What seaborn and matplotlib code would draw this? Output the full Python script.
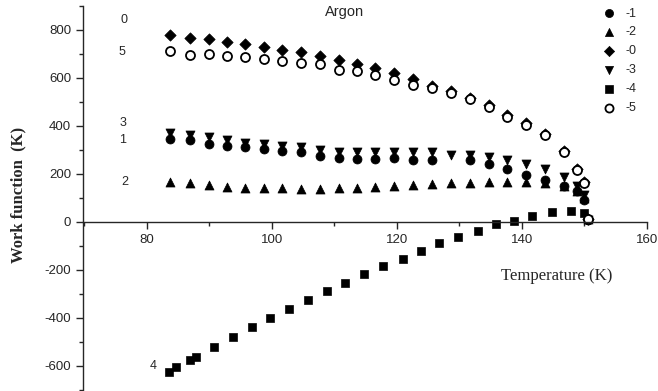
import numpy as np
import pandas as pd
import matplotlib
matplotlib.use('Agg')
import matplotlib.pyplot as plt
import seaborn as sns
from matplotlib.ticker import MultipleLocator

sns.set_style("ticks")
plt.rcParams['font.family'] = ['Liberation Sans Narrow', 'Liberation Sans', 'DejaVu Sans']
plt.rcParams['axes.unicode_minus'] = False

# Data: temperature (K) and work function (K)
t_a = [83.8, 86.9, 89.9, 92.9, 95.8, 98.8, 101.7, 104.7, 107.7, 110.7, 113.6, 116.6,
       119.6, 122.6, 125.6, 128.6, 131.7, 134.8, 137.7, 140.6, 143.7, 146.8, 148.8,
       149.9, 150.6]
wf_0 = [779, 768, 761, 751, 740, 729, 714, 706, 690, 675, 659, 640,
        620, 597, 565, 545, 518, 485, 445, 410, 365, 295, 222, 168, 10]
wf_5 = [712, 695, 698, 689, 686, 678, 670, 662, 658, 633, 627, 612,
        589, 569, 558, 538, 510, 480, 438, 405, 360, 290, 216, 160, 10]
wf_3 = [370, 362, 353, 342, 330, 325, 317, 311, 300, 293, 290, 293,
        289, 289, 289, 280, 279, 270, 256, 242, 220, 188, 150, 112, 8]
wf_1 = [345, 342, 325, 317, 310, 303, 297, 289, 275, 265, 261, 261,
        265, 258, 258, np.nan, 258, 243, 222, 196, 175, 150, 128, 90, 8]
wf_2 = [168, 163, 155, 145, 142, 140, 140, 136, 137, 140, 143, 146,
        150, 153, 156, 160, 163, 166, 167, 166, 162, 148, 130, 100, 10]

t_4 = [83.6, 84.7, 86.9, 87.9, 90.7, 93.8, 96.8, 99.8, 102.8, 105.8, 108.8, 111.8,
       114.8, 117.8, 121.0, 123.8, 126.7, 129.8, 133.0, 135.8, 138.8, 141.7, 144.9,
       147.9, 149.9]
wf_4 = [-626, -607, -576, -562, -521, -480, -437, -400, -362, -326, -287, -254,
        -219, -186, -154, -121, -90, -65, -40, -10, 5, 25, 39, 47, 36]

fig = plt.figure(figsize=(6.58, 3.91), dpi=100)
ax = fig.add_axes([0.126, 0.0, 0.857, 0.985])

ms = 42
sns.scatterplot(x=t_a, y=wf_1, marker='o', s=ms, color='black', edgecolor='black', label='-1', ax=ax)
sns.scatterplot(x=t_a, y=wf_2, marker='^', s=ms, color='black', edgecolor='black', label='-2', ax=ax)
sns.scatterplot(x=t_a, y=wf_0, marker='D', s=ms * 0.8, color='black', edgecolor='black', label='-0', ax=ax)
sns.scatterplot(x=t_a, y=wf_3, marker='v', s=ms, color='black', edgecolor='black', label='-3', ax=ax)
sns.scatterplot(x=t_4, y=wf_4, marker='s', s=ms * 0.85, color='black', edgecolor='black', label='-4', ax=ax)
sns.scatterplot(x=t_a, y=wf_5, marker='o', s=ms, facecolor='white', edgecolor='black',
                linewidth=1.3, label='-5', ax=ax)

ax.set_xlim(69.8, 160)
ax.set_ylim(-705, 900)

ax.spines['top'].set_visible(False)
ax.spines['right'].set_visible(False)
ax.spines['bottom'].set_position(('data', 0))
for sp in ('left', 'bottom'):
    ax.spines[sp].set_linewidth(1.0)

ax.xaxis.set_minor_locator(MultipleLocator(10))
ax.yaxis.set_minor_locator(MultipleLocator(100))
ax.set_xticks([80, 100, 120, 140, 160])
ax.set_yticks([-600, -400, -200, 0, 200, 400, 600, 800])
ax.tick_params(axis='both', which='major', length=5, width=1, labelsize=9.5, direction='out')
ax.tick_params(axis='both', which='minor', length=3, width=1, direction='out')
ax.tick_params(axis='x', pad=4)

# axis labels
ax.set_xlabel('Temperature (K)', family=['Liberation Serif', 'DejaVu Serif'], fontsize=12)
ax.xaxis.set_label_coords(0.84, 0.32)
ax.set_ylabel('Work function  (K)', family=['Liberation Serif', 'DejaVu Serif'],
              fontsize=12, fontweight='bold')
ax.yaxis.set_label_coords(-0.1, 0.51)

ax.text(111.7, 875, 'Argon', ha='center', va='center', fontsize=10.5,
        family=['Liberation Sans', 'DejaVu Sans'])

# series labels next to the first points
ax.text(76.3, 842, '0', ha='center', va='center', fontsize=9)
ax.text(76.0, 708, '5', ha='center', va='center', fontsize=9)
ax.text(76.2, 412, '3', ha='center', va='center', fontsize=9)
ax.text(76.2, 342, '1', ha='center', va='center', fontsize=9)
ax.text(76.5, 167, '2', ha='center', va='center', fontsize=9)
ax.text(81.1, -600, '4', ha='center', va='center', fontsize=9)

ax.legend(loc='upper right', bbox_to_anchor=(0.995, 1.015), frameon=False, fontsize=9,
          handletextpad=0.3, labelspacing=0.55, borderaxespad=0.2, markerscale=0.9)

fig.savefig('out.png', dpi=100)
